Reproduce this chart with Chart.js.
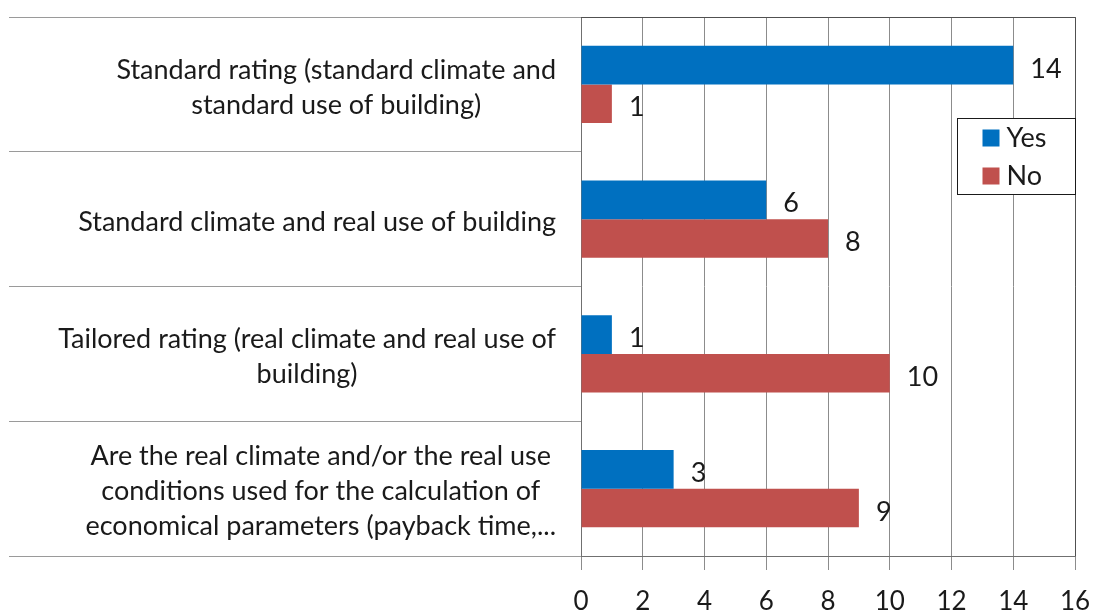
<!DOCTYPE html>
<html>
<head>
<meta charset="utf-8">
<script src="https://cdn.jsdelivr.net/npm/chart.js@4"></script>
<style>
  html, body { margin: 0; padding: 0; background: #fff; }
  #wrap { width: 1107px; height: 612px; }
</style>
</head>
<body>
<div id="wrap"><canvas id="rating-chart"></canvas></div>
<script>
var categories = [
  ["Standard rating (standard climate and", "standard use of building)"],
  ["Standard climate and real use of building"],
  ["Tailored rating (real climate and real use of", "building)"],
  ["Are the real climate and/or the real use", "conditions used for the calculation of", "economical parameters (payback time,..."]
];
var yesValues = [14, 6, 1, 3];
var noValues = [1, 8, 10, 9];
var seriesNames = ["Yes", "No"];
var seriesColors = ["#0070C0", "#C0504D"];
var xTicks = [0, 2, 4, 6, 8, 10, 12, 14, 16];

var FONT = "Lato, 'Open Sans', sans-serif";
var TEXT = "#1a1a1a";

// category names, wrapped lines centred, block right aligned (excel style)
var categoryLabels = {
  id: "categoryLabels",
  afterDraw: function(chart) {
    var ctx = chart.ctx;
    var y = chart.scales.y;
    var right = chart.chartArea.left - 25;
    var lineH = 35;
    ctx.save();
    ctx.font = "27px " + FONT;
    ctx.fillStyle = TEXT;
    ctx.textAlign = "center";
    ctx.textBaseline = "middle";
    categories.forEach(function(lines, i) {
      var w = 0;
      lines.forEach(function(l) { w = Math.max(w, ctx.measureText(l).width); });
      var cx = right - w / 2;
      var cy = y.getPixelForTick(i) + 3 - (lines.length - 1) * lineH / 2;
      lines.forEach(function(l, j) { ctx.fillText(l, cx, cy + j * lineH); });
    });
    ctx.restore();
  }
};

// value labels next to bar ends
var valueLabels = {
  id: "valueLabels",
  afterDatasetsDraw: function(chart) {
    var ctx = chart.ctx;
    ctx.save();
    ctx.font = "27px " + FONT;
    ctx.fillStyle = TEXT;
    ctx.textAlign = "left";
    ctx.textBaseline = "middle";
    chart.data.datasets.forEach(function(ds, di) {
      chart.getDatasetMeta(di).data.forEach(function(bar, i) {
        ctx.fillText(String(ds.data[i]), bar.x + 17, bar.y + 4);
      });
    });
    ctx.restore();
  }
};

// top/right frame of plot + boxed legend inside the plot
var frameAndLegend = {
  id: "frameAndLegend",
  afterDraw: function(chart) {
    var ctx = chart.ctx;
    var a = chart.chartArea;
    ctx.save();
    ctx.strokeStyle = "#505050";
    ctx.lineWidth = 1;
    ctx.beginPath();
    ctx.moveTo(a.left, a.top + 0.5);
    ctx.lineTo(a.right + 0.5, a.top + 0.5);
    ctx.lineTo(a.right + 0.5, a.bottom);
    ctx.stroke();

    var bw = 118, bh = 76;
    var bx = Math.round(a.right - bw) + 0.5, by = 118.5;
    ctx.fillStyle = "#fff";
    ctx.fillRect(bx, by, bw, bh);
    ctx.strokeStyle = "#1a1a1a";
    ctx.strokeRect(bx, by, bw, bh);
    ctx.font = "27px " + FONT;
    ctx.textAlign = "left";
    ctx.textBaseline = "middle";
    chart.data.datasets.forEach(function(ds, i) {
      var cy = by + 19 + i * 38;
      ctx.fillStyle = ds.backgroundColor;
      ctx.fillRect(bx + 25, cy - 8, 17, 17);
      ctx.fillStyle = TEXT;
      ctx.fillText(ds.label, bx + 49, cy + 1);
    });
    ctx.restore();
  }
};

new Chart("rating-chart", {
  type: "bar",
  data: {
    labels: categories,
    datasets: [{
      label: seriesNames[0],
      data: yesValues,
      backgroundColor: seriesColors[0],
      categoryPercentage: 0.575,
      barPercentage: 1.0
    }, {
      label: seriesNames[1],
      data: noValues,
      backgroundColor: seriesColors[1],
      categoryPercentage: 0.575,
      barPercentage: 1.0
    }]
  },
  options: {
    indexAxis: "y",
    responsive: true,
    maintainAspectRatio: false,
    animation: false,
    devicePixelRatio: 1,
    layout: { padding: { top: 17, right: 32, left: 0, bottom: 0 } },
    plugins: {
      legend: { display: false },
      tooltip: { enabled: false }
    },
    scales: {
      x: {
        min: 0,
        max: 16,
        afterBuildTicks: function(axis) {
          axis.ticks = xTicks.map(function(v) { return { value: v }; });
        },
        afterFit: function(axis) { axis.height = 56; },
        grid: { color: "#8c8c8c", tickLength: 14 },
        border: { color: "#707070" },
        ticks: { font: { family: FONT, size: 26 }, color: TEXT, padding: 16 }
      },
      y: {
        afterFit: function(axis) { axis.width = 581; },
        grid: { offset: true, drawOnChartArea: false, tickLength: 572, color: "#9a9a9a" },
        border: { color: "#707070" },
        ticks: { display: false }
      }
    }
  },
  plugins: [categoryLabels, valueLabels, frameAndLegend]
});
</script>
</body>
</html>
